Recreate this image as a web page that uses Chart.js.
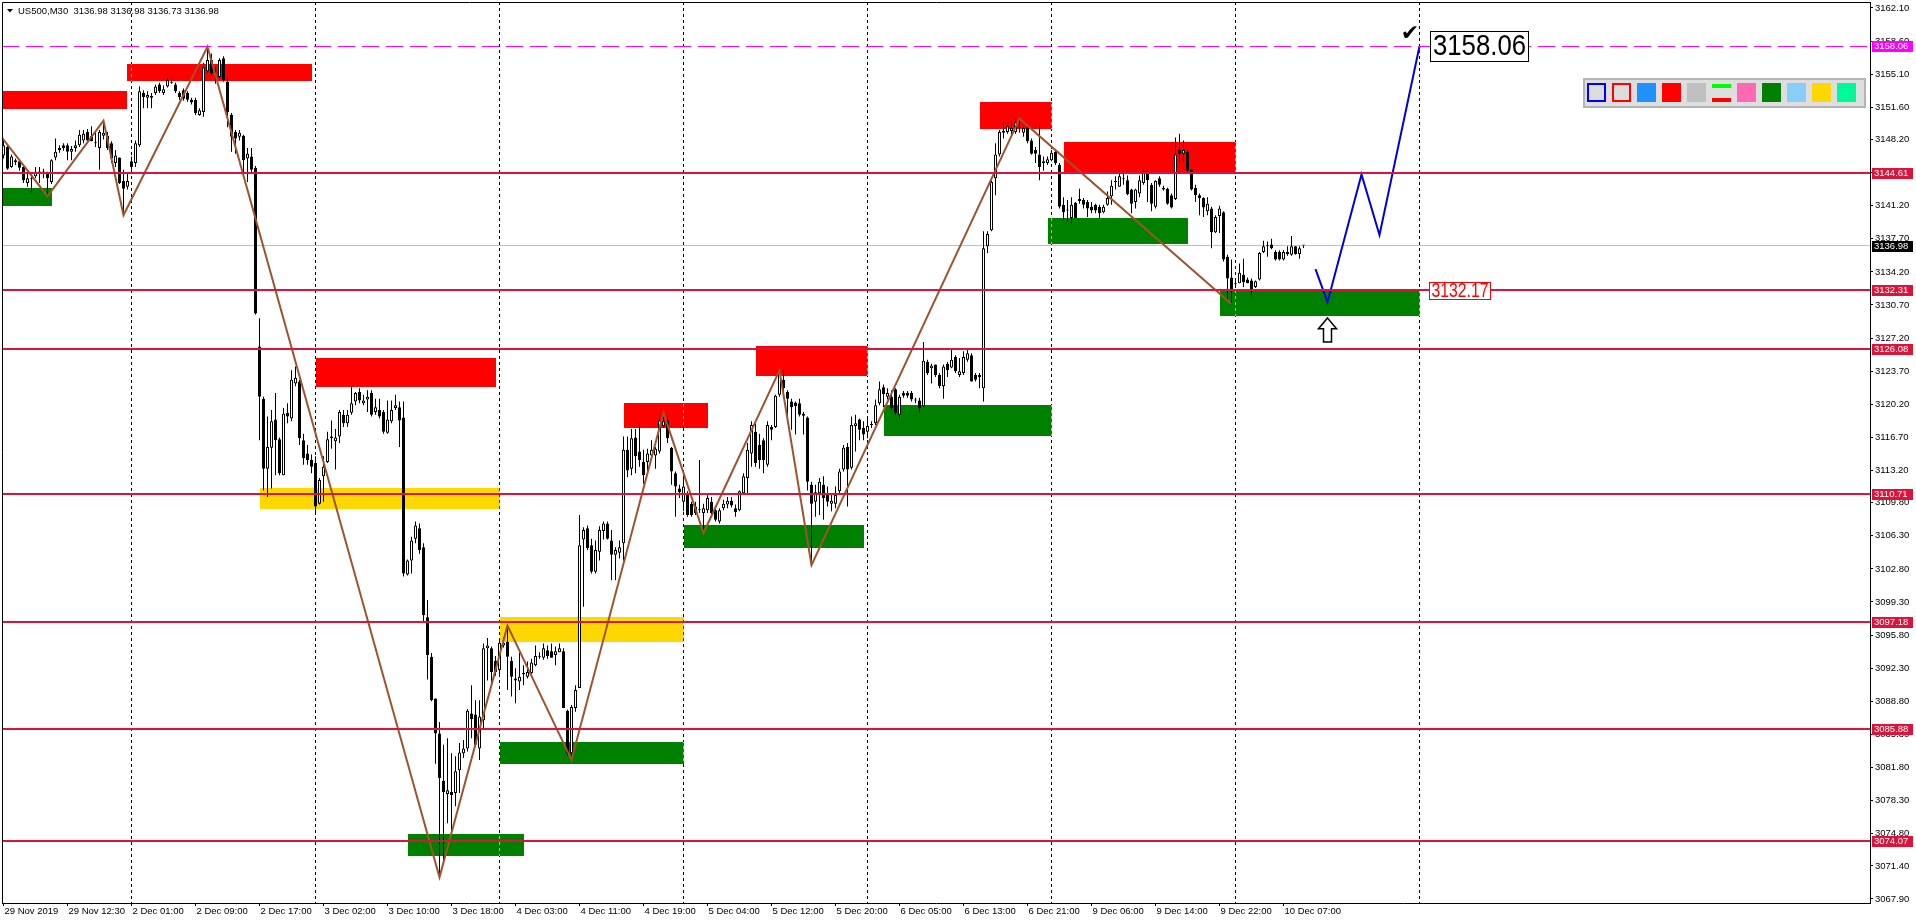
<!DOCTYPE html>
<html>
<head>
<meta charset="utf-8">
<script src="https://cdn.jsdelivr.net/npm/chart.js@4.4.1/dist/chart.umd.min.js"></script>
<style>
  html, body { margin: 0; padding: 0; background: #fff; }
  #wrap { width: 1916px; height: 923px; }
</style>
</head>
<body>
<div id="wrap"><canvas id="chart" width="1916" height="923"></canvas></div>
<script>
const FONT = '"Liberation Sans", Arial, sans-serif';

// US500 M30 candles, [open, high, low, close], one array per session
const nov29 = [
  [3146.5,3148.3,3146.2,3147.6],[3147.4,3147.6,3145.0,3145.1],[3145.3,3146.6,3145.2,3146.4],[3146.0,3146.2,3145.5,3145.8],
  [3145.9,3146.1,3144.9,3145.2],[3145.3,3145.5,3143.6,3143.9],[3143.6,3144.6,3143.2,3144.1],[3144.1,3144.6,3142.6,3144.0],
  [3144.3,3145.3,3144.1,3144.8],[3144.7,3145.3,3143.6,3144.7],[3144.7,3145.1,3144.1,3144.8],[3144.6,3144.8,3142.2,3144.1],
  [3143.7,3146.1,3143.5,3146.0],[3146.3,3148.3,3146.0,3146.9],[3147.1,3147.6,3146.8,3147.3],[3147.6,3147.8,3147.0,3147.3],
  [3147.6,3147.8,3146.0,3146.9],[3146.9,3147.5,3146.0,3147.2],[3147.3,3148.1,3146.9,3147.6],[3147.6,3149.2,3147.4,3148.7],
  [3148.1,3149.2,3147.8,3148.8],[3149.0,3149.3,3147.9,3148.1],[3148.6,3149.6,3148.0,3148.0],[3147.8,3149.0,3147.4,3147.8],
  [3147.3,3149.2,3145.0,3149.0],[3148.6,3150.2,3148.2,3148.9],[3148.6,3149.0,3147.1,3147.3],[3147.8,3148.0,3145.7,3146.2],
  [3145.7,3147.1,3145.3,3146.5],[3146.3,3146.3,3143.5,3143.6],[3143.8,3145.0,3140.2,3143.0],[3143.2,3144.6,3142.9,3143.8]
];
const dec02 = [
  [3145.9,3146.4,3145.0,3145.3],[3145.7,3148.1,3145.3,3147.8],[3147.6,3153.8,3147.4,3153.3],[3153.1,3153.4,3151.5,3152.7],
  [3152.6,3153.3,3151.5,3152.9],[3152.6,3153.1,3151.5,3152.8],[3153.1,3154.0,3152.9,3153.8],[3154.0,3154.2,3153.1,3153.3],
  [3153.1,3153.9,3152.9,3153.5],[3153.8,3154.7,3153.7,3154.5],[3154.2,3154.6,3154.1,3154.2],[3154.0,3154.2,3153.1,3153.3],
  [3153.1,3153.3,3152.4,3152.7],[3153.4,3153.6,3152.3,3152.5],[3153.1,3153.3,3152.2,3152.4],[3152.4,3152.6,3151.9,3152.1],
  [3152.4,3152.6,3150.8,3151.0],[3150.8,3151.5,3150.7,3151.3],[3151.1,3156.3,3150.6,3155.8],[3155.4,3158.0,3155.2,3156.6],
  [3156.6,3157.3,3155.0,3155.2],[3155.6,3155.9,3154.1,3155.5],[3154.8,3156.8,3154.7,3156.6],[3156.8,3157.0,3154.3,3154.5],
  [3154.3,3154.8,3149.5,3151.1],[3150.8,3151.0,3146.9,3148.5],[3149.0,3149.2,3146.7,3148.3],[3148.5,3149.2,3148.1,3148.9],
  [3148.6,3148.7,3144.3,3146.0],[3146.2,3147.3,3143.7,3146.7],[3146.4,3147.3,3144.6,3145.0],[3145.2,3145.4,3129.7,3129.8],
  [3126.3,3129.3,3116.4,3121.0],[3120.8,3121.0,3111.1,3113.4],[3113.4,3118.9,3110.4,3115.7],[3115.6,3119.6,3111.3,3118.4],
  [3118.6,3121.4,3112.7,3116.4],[3116.5,3116.7,3112.7,3112.9],[3112.7,3119.8,3112.7,3119.2],[3119.3,3120.3,3118.2,3118.9],
  [3118.7,3123.8,3118.4,3122.8],[3122.4,3124.2,3122.1,3123.0],[3122.6,3122.8,3115.9,3116.6],[3116.4,3117.1,3113.8,3114.5],
  [3115.0,3115.9,3113.8,3114.3],[3114.3,3114.9,3112.9,3113.6]
];
const dec03 = [
  [3114.0,3114.7,3108.5,3109.4],[3109.7,3112.4,3109.6,3112.2],[3112.6,3114.7,3109.9,3113.6],[3114.1,3117.3,3114.0,3116.5],
  [3116.8,3118.5,3115.5,3116.6],[3116.3,3117.6,3113.3,3116.7],[3116.8,3119.6,3116.1,3119.4],[3119.1,3119.6,3117.8,3118.2],
  [3118.2,3119.6,3117.8,3119.1],[3119.3,3122.1,3119.1,3120.3],[3120.5,3121.5,3120.1,3121.4],[3121.5,3121.9,3120.3,3120.6],
  [3120.3,3121.2,3120.1,3120.6],[3120.7,3121.7,3119.4,3121.0],[3121.4,3121.7,3118.9,3119.1],[3119.4,3120.8,3119.1,3119.9],
  [3119.6,3120.8,3118.7,3118.9],[3119.4,3119.6,3117.1,3117.3],[3117.2,3120.6,3117.1,3118.6],[3118.4,3120.6,3118.2,3119.6],
  [3119.8,3121.2,3119.6,3120.1],[3119.9,3120.5,3115.7,3118.5],[3118.8,3120.5,3102.0,3102.3],[3102.2,3103.8,3102.1,3103.7],
  [3103.7,3106.2,3102.3,3105.8],[3106.0,3107.8,3105.5,3107.4],[3107.1,3107.6,3104.4,3104.8],[3105.1,3105.5,3097.2,3097.9],
  [3097.7,3099.5,3091.1,3093.7],[3093.5,3093.9,3088.8,3088.9],[3089.1,3089.1,3082.2,3085.4],[3085.4,3086.6,3070.2,3080.7],
  [3080.4,3084.2,3072.0,3079.2],[3079.0,3084.9,3075.9,3079.4],[3079.2,3083.3,3074.8,3078.9],[3079.1,3083.0,3077.7,3081.4],
  [3081.5,3084.4,3079.1,3083.4],[3083.3,3084.7,3082.8,3083.8],[3083.8,3088.0,3083.5,3087.8],[3087.5,3090.5,3084.9,3086.9],
  [3087.4,3088.9,3084.0,3084.2],[3083.8,3088.9,3082.6,3087.2],[3086.8,3094.9,3085.8,3094.4],[3094.4,3095.5,3091.0,3094.7],
  [3094.4,3094.6,3090.7,3091.9],[3093.1,3093.6,3091.5,3091.9]
];
const dec04 = [
  [3092.1,3095.3,3091.4,3095.0],[3094.7,3095.6,3094.5,3095.0],[3095.1,3096.8,3090.0,3093.5],[3093.1,3093.5,3089.3,3091.4],
  [3091.2,3092.3,3088.6,3091.0],[3090.9,3094.0,3090.0,3091.4],[3091.7,3092.6,3090.5,3091.7],[3091.4,3093.0,3091.2,3091.9],
  [3091.8,3093.3,3091.7,3092.9],[3092.6,3094.7,3092.5,3093.6],[3093.5,3094.0,3093.3,3093.5],[3093.4,3094.9,3093.2,3094.4],
  [3094.2,3094.7,3093.3,3093.6],[3094.1,3094.9,3093.4,3093.4],[3093.7,3094.6,3092.6,3094.1],[3094.0,3094.9,3094.0,3094.4],
  [3094.1,3094.4,3088.1,3088.1],[3087.8,3087.9,3083.1,3083.3],[3083.3,3088.4,3082.6,3088.2],[3088.1,3090.5,3087.7,3090.0],
  [3090.2,3108.5,3090.2,3105.3],[3105.9,3107.2,3098.8,3106.9],[3107.1,3107.4,3104.8,3105.0],[3105.3,3106.0,3102.3,3102.5],
  [3102.5,3105.8,3102.3,3104.8],[3104.6,3107.3,3103.7,3106.9],[3106.8,3107.8,3105.9,3107.6],[3107.6,3107.8,3105.9,3106.0],
  [3105.8,3106.9,3101.6,3104.3],[3104.3,3105.1,3101.6,3104.8],[3104.5,3105.8,3103.9,3105.1],[3105.5,3116.8,3103.7,3115.4],
  [3115.4,3116.8,3112.5,3113.2],[3113.4,3117.6,3112.7,3116.6],[3116.7,3117.6,3112.9,3114.7],[3115.2,3118.2,3113.6,3114.3],
  [3114.1,3115.4,3111.8,3112.7],[3114.1,3115.5,3112.9,3115.0],[3114.8,3116.4,3114.7,3115.4],[3114.8,3115.7,3113.4,3115.5],
  [3115.2,3118.9,3115.0,3118.5],[3117.9,3119.3,3117.7,3118.4],[3118.5,3118.7,3116.1,3116.6],[3115.6,3115.7,3111.7,3113.1],
  [3112.9,3113.1,3108.3,3111.5],[3111.3,3111.7,3110.3,3110.9]
];
const dec05 = [
  [3109.9,3112.7,3108.9,3111.5],[3110.6,3111.0,3108.3,3108.5],[3109.7,3109.9,3108.3,3108.5],[3109.4,3109.9,3108.5,3108.7],
  [3109.0,3114.3,3108.7,3109.0],[3108.7,3109.7,3106.6,3109.2],[3109.0,3110.6,3108.7,3110.3],[3109.9,3110.4,3108.5,3108.7],
  [3109.0,3109.2,3107.8,3108.0],[3107.8,3109.2,3107.6,3109.0],[3109.2,3110.1,3109.0,3109.7],[3109.6,3110.4,3109.2,3110.0],
  [3110.0,3110.4,3109.3,3109.5],[3109.2,3109.6,3108.3,3108.8],[3109.0,3111.1,3108.9,3111.0],[3110.8,3112.9,3110.6,3112.6],
  [3112.4,3116.1,3110.6,3115.4],[3115.0,3118.4,3113.6,3118.0],[3117.3,3118.2,3113.6,3114.0],[3115.9,3117.1,3113.4,3114.3],
  [3116.4,3116.6,3112.9,3114.3],[3113.8,3118.4,3113.6,3118.0],[3117.8,3118.0,3116.4,3117.5],[3117.8,3121.2,3117.7,3121.1],
  [3121.2,3123.8,3121.0,3123.5],[3122.8,3123.8,3121.0,3121.9],[3121.5,3121.7,3118.6,3120.8],[3120.5,3120.8,3117.5,3119.9],
  [3120.4,3120.5,3117.0,3120.0],[3120.3,3120.8,3118.9,3119.1],[3119.0,3119.4,3117.0,3119.2],[3118.8,3118.9,3111.1,3112.0],
  [3111.7,3112.0,3103.2,3109.7],[3109.9,3111.7,3108.3,3110.9],[3110.8,3112.4,3108.5,3112.0],[3111.7,3112.6,3108.0,3110.3],
  [3110.8,3111.5,3109.4,3109.9],[3109.7,3110.6,3108.9,3110.0],[3109.7,3111.5,3109.2,3110.6],[3111.0,3113.4,3110.8,3113.1],
  [3113.3,3115.9,3113.1,3115.6],[3115.7,3116.1,3109.4,3113.3],[3113.5,3118.9,3113.3,3118.0],[3117.9,3119.1,3115.2,3118.2],
  [3118.6,3118.7,3116.4,3117.5],[3117.7,3118.4,3116.4,3117.0]
];
const dec06 = [
  [3117.3,3118.7,3116.6,3117.9],[3118.0,3118.4,3117.7,3118.1],[3118.2,3120.7,3118.0,3120.1],[3120.3,3122.6,3120.1,3121.8],
  [3122.0,3122.3,3119.9,3121.3],[3121.0,3121.9,3120.7,3121.4],[3121.0,3121.7,3119.6,3119.8],[3121.8,3121.9,3119.1,3119.3],
  [3119.1,3121.2,3118.7,3121.0],[3121.4,3121.6,3120.9,3121.1],[3121.4,3121.6,3120.9,3121.1],[3121.4,3121.6,3120.5,3120.7],
  [3120.6,3120.9,3120.3,3120.6],[3120.6,3120.9,3119.3,3119.8],[3120.0,3126.8,3119.9,3124.8],[3124.7,3124.9,3123.3,3123.5],
  [3124.0,3124.5,3122.4,3124.3],[3124.4,3124.4,3123.1,3123.3],[3123.3,3123.5,3121.9,3122.1],[3122.1,3124.4,3120.8,3124.2],
  [3124.5,3124.7,3123.1,3123.8],[3124.1,3126.0,3124.0,3124.9],[3125.2,3125.4,3123.5,3123.7],[3123.3,3125.1,3123.1,3123.7],
  [3123.5,3125.8,3123.3,3125.2],[3124.9,3126.0,3124.7,3125.6],[3125.4,3125.6,3122.6,3122.6],[3123.3,3123.5,3122.6,3122.8],
  [3123.1,3123.5,3121.9,3123.3],[3121.9,3138.5,3120.5,3136.7],[3136.9,3138.5,3136.2,3138.2],[3138.6,3143.9,3138.5,3143.7],
  [3144.1,3147.8,3142.3,3146.6],[3146.6,3149.2,3146.4,3149.0],[3148.9,3150.3,3148.3,3149.1],[3149.0,3149.9,3148.8,3149.6],
  [3149.1,3150.2,3148.7,3149.4],[3149.0,3150.4,3148.8,3150.0],[3149.4,3150.4,3148.9,3149.4],[3148.9,3149.6,3148.5,3149.4],
  [3149.4,3149.6,3147.8,3148.0],[3148.1,3148.3,3146.6,3146.7],[3147.1,3147.4,3145.7,3146.7],[3146.6,3149.8,3143.9,3145.3],
  [3145.7,3146.4,3144.9,3145.9],[3145.7,3146.4,3145.5,3146.1]
];
const dec09 = [
  [3146.0,3147.1,3145.9,3146.8],[3146.9,3147.1,3145.5,3145.7],[3145.5,3145.7,3140.9,3141.1],[3141.3,3142.1,3139.7,3140.5],
  [3140.8,3141.8,3139.5,3140.7],[3139.9,3142.1,3139.3,3141.3],[3141.5,3141.6,3139.9,3139.9],[3141.7,3143.0,3141.4,3141.9],
  [3141.8,3142.0,3140.9,3141.3],[3141.6,3141.8,3140.0,3140.9],[3141.1,3141.6,3140.4,3140.7],[3141.3,3141.4,3140.4,3140.7],
  [3141.1,3141.3,3139.9,3140.4],[3140.5,3141.3,3140.4,3141.1],[3141.3,3142.7,3141.2,3142.0],[3142.2,3143.9,3141.3,3143.3],
  [3143.7,3144.3,3142.9,3143.8],[3143.2,3144.9,3143.2,3144.3],[3144.0,3144.9,3143.4,3144.0],[3143.9,3144.4,3142.3,3142.4],
  [3142.9,3143.0,3140.4,3141.4],[3141.6,3143.0,3140.9,3142.9],[3142.5,3144.4,3142.1,3143.9],[3143.6,3145.1,3143.4,3144.9],
  [3144.9,3145.0,3141.6,3143.9],[3143.4,3143.6,3140.6,3141.4],[3141.1,3143.9,3140.9,3143.8],[3144.1,3144.3,3143.2,3143.4],
  [3143.1,3143.3,3142.8,3142.9],[3143.0,3143.1,3141.3,3141.4],[3142.3,3142.5,3140.9,3141.0],[3141.9,3148.4,3141.8,3146.6],
  [3147.1,3148.8,3145.8,3146.7],[3146.7,3148.1,3145.7,3147.1],[3146.9,3147.1,3144.8,3144.9],[3145.0,3145.1,3142.8,3142.9],
  [3143.1,3143.4,3141.6,3142.3],[3142.3,3142.5,3140.2,3142.0],[3142.0,3142.1,3140.0,3141.0],[3140.6,3142.1,3140.2,3141.4],
  [3140.9,3141.1,3136.7,3138.4],[3138.4,3140.2,3138.3,3140.0],[3140.1,3141.2,3138.3,3140.9],[3140.5,3140.6,3135.3,3135.5],
  [3135.8,3136.0,3131.2,3133.5],[3133.6,3135.5,3130.8,3132.3]
];
const dec10 = [
  [3132.9,3133.3,3132.5,3132.9],[3133.0,3135.1,3133.0,3134.1],[3133.9,3135.6,3132.6,3133.1],[3133.4,3133.6,3133.0,3133.0],
  [3133.3,3133.5,3131.6,3132.4],[3132.6,3133.3,3132.5,3133.2],[3133.4,3136.3,3133.3,3136.2],[3136.3,3137.5,3136.2,3136.9],
  [3136.9,3137.4,3135.8,3136.9],[3137.1,3137.7,3136.6,3136.7],[3136.3,3136.5,3135.4,3135.5],[3136.3,3136.5,3135.4,3135.5],
  [3135.5,3136.5,3135.4,3136.3],[3136.3,3136.9,3135.9,3136.1],[3136.0,3138.0,3135.9,3136.9],[3136.9,3136.9,3136.0,3136.1],
  [3136.1,3136.9,3135.6,3136.7],[3136.98,3136.98,3136.73,3136.98]
];
const candles = [nov29, dec02, dec03, dec04, dec05, dec06, dec09, dec10].flat();

// time axis: bar index of each label
const xTickIdx = [0, 16, 32, 48, 64, 80, 96, 112, 128, 144, 160, 176, 192, 208, 224, 240, 256, 272, 288, 304, 320];
const xTickText = ['29 Nov 2019', '29 Nov 12:30', '2 Dec 01:00', '2 Dec 09:00', '2 Dec 17:00', '3 Dec 02:00',
  '3 Dec 10:00', '3 Dec 18:00', '4 Dec 03:00', '4 Dec 11:00', '4 Dec 19:00', '5 Dec 04:00', '5 Dec 12:00',
  '5 Dec 20:00', '6 Dec 05:00', '6 Dec 13:00', '6 Dec 21:00', '9 Dec 06:00', '9 Dec 14:00', '9 Dec 22:00', '10 Dec 07:00'];
const yTickVals = [3162.10, 3158.60, 3155.10, 3151.60, 3148.20, 3144.70, 3141.20, 3137.70, 3134.20, 3130.70,
  3127.20, 3123.70, 3120.20, 3116.70, 3113.20, 3109.80, 3106.30, 3102.80, 3099.30, 3095.80, 3092.30, 3088.80,
  3085.30, 3081.80, 3078.30, 3074.80, 3071.40, 3067.90];
const daySeparators = [32, 78, 124, 170, 216, 262, 308, 354];

// drawn objects
const levels = [3144.61, 3132.31, 3126.08, 3110.71, 3097.18, 3085.88, 3074.07];
const targetLevel = 3158.06;
const bidPrice = 3136.98;
const zigzag = [[-0.4, 3148.4], [11, 3142.2], [25, 3150.2], [30, 3140.2], [51, 3158.0], [109, 3070.2], [126, 3096.8],
  [142, 3082.6], [165, 3119.3], [175, 3106.6], [194, 3123.8], [202, 3103.2], [254, 3150.4], [307, 3130.8]];
const projection = [[328, 3134.5], [331, 3131.0], [339.5, 3144.5], [344, 3138.1], [354, 3158.06]];
// [from bar, to bar, top price, bottom price]
const redZones = [[-1, 31, 3153.33, 3151.45], [31, 77, 3156.18, 3154.42], [78, 123, 3125.13, 3122.07],
  [155, 176, 3120.35, 3117.70], [188, 216, 3126.37, 3123.17], [244, 262, 3152.16, 3149.34], [265, 308, 3147.93, 3144.80]];
const greenZones = [[-1, 12, 3143.07, 3141.20], [101, 130, 3074.82, 3072.46], [124, 170, 3084.54, 3082.15],
  [170, 215, 3107.45, 3105.05], [220, 262, 3120.13, 3116.89], [261, 296, 3139.90, 3137.19], [304, 354, 3132.29, 3129.57]];
const goldZones = [[64, 124, 3111.36, 3109.12], [124, 170, 3097.72, 3095.05]];
const toolColors = ['#dcdcdc', '#dcdcdc', '#1e90ff', '#ff0000', '#c0c0c0', null, '#ff69b4', '#008000', '#87cefa', '#ffd700', '#00fa9a'];

function fitText(ctx, str, cx, cy, size, width, color) {
  ctx.save();
  ctx.font = size + 'px ' + FONT;
  const w = ctx.measureText(str).width;
  ctx.translate(cx, cy);
  ctx.scale(width / w, 1);
  ctx.textAlign = 'center';
  ctx.textBaseline = 'middle';
  ctx.fillStyle = color;
  ctx.fillText(str, 0, 0);
  ctx.restore();
}

function hLine(ctx, a, yy, color, width, dash) {
  ctx.save();
  ctx.strokeStyle = color;
  ctx.lineWidth = width;
  ctx.setLineDash(dash || []);
  ctx.beginPath();
  ctx.moveTo(a.left, yy);
  ctx.lineTo(a.right, yy);
  ctx.stroke();
  ctx.restore();
}

const mt4Objects = {
  id: 'mt4Objects',
  beforeDraw(chart) {
    const ctx = chart.ctx;
    ctx.save();
    ctx.fillStyle = '#fff';
    ctx.fillRect(0, 0, chart.width, chart.height);
    ctx.restore();
  },
  beforeDatasetsDraw(chart) {
    const { ctx, chartArea: a, scales: { x, y } } = chart;
    ctx.save();
    ctx.beginPath();
    ctx.rect(a.left, a.top, a.right - a.left, a.bottom - a.top);
    ctx.clip();
    hLine(ctx, a, Math.floor(y.getPixelForValue(bidPrice)) + 0.5, '#c0c0c0', 1);
    const fillZones = (list, color) => {
      ctx.fillStyle = color;
      list.forEach(([b0, b1, top, bot]) => {
        const x0 = Math.round(x.getPixelForValue(b0)), x1 = Math.round(x.getPixelForValue(b1));
        const y0 = Math.round(y.getPixelForValue(top)), y1 = Math.round(y.getPixelForValue(bot));
        ctx.fillRect(x0, y0, x1 - x0, y1 - y0);
      });
    };
    fillZones(goldZones, '#ffd700');
    fillZones(greenZones, '#008000');
    fillZones(redZones, '#ff0000');
    // period separators use an xor-like pen
    ctx.globalCompositeOperation = 'difference';
    ctx.strokeStyle = '#fff';
    ctx.lineWidth = 1;
    ctx.setLineDash([3, 3]);
    daySeparators.forEach(b => {
      const xs = Math.floor(x.getPixelForValue(b)) + 0.5;
      ctx.beginPath();
      ctx.moveTo(xs, a.top);
      ctx.lineTo(xs, a.bottom);
      ctx.stroke();
    });
    ctx.restore();
  },
  afterDatasetsDraw(chart) {
    const { ctx, chartArea: a, scales: { x, y } } = chart;
    ctx.save();
    ctx.beginPath();
    ctx.rect(a.left, a.top, a.right - a.left, a.bottom - a.top);
    ctx.clip();
    levels.forEach(v => hLine(ctx, a, Math.round(y.getPixelForValue(v)), '#dc143c', 2));
    hLine(ctx, a, Math.floor(y.getPixelForValue(targetLevel)) + 0.5, '#ff00ff', 1, [17, 7]);

    // target label
    let bx = Math.round(x.getPixelForValue(356.6)), by = y.getPixelForValue(targetLevel);
    ctx.fillStyle = '#fff';
    ctx.fillRect(bx, Math.round(by - 15.5), 99, 31);
    ctx.strokeStyle = '#000';
    ctx.lineWidth = 1;
    ctx.strokeRect(bx + 0.5, Math.round(by - 15.5) + 0.5, 98, 30);
    fitText(ctx, '3158.06', bx + 49.5, by + 0.5, 30, 93, '#000');

    // tick mark above the target
    ctx.fillStyle = '#000';
    ctx.font = 'bold 22px "DejaVu Sans", sans-serif';
    ctx.textAlign = 'center';
    ctx.textBaseline = 'middle';
    ctx.fillText('\u2714', x.getPixelForValue(351.6), y.getPixelForValue(3159.35));

    // support label
    bx = Math.round(x.getPixelForValue(356.4));
    by = y.getPixelForValue(3132.17);
    ctx.fillStyle = '#fff';
    ctx.fillRect(bx, Math.round(by - 9), 62, 18);
    ctx.strokeStyle = '#ff0000';
    ctx.strokeRect(bx + 0.5, Math.round(by - 9) + 0.5, 61, 17);
    fitText(ctx, '3132.17', bx + 31, by + 0.5, 19.5, 57, '#ff0000');

    // up arrow under the projected low
    const ax = x.getPixelForValue(331), at = y.getPixelForValue(3129.33), ab = y.getPixelForValue(3126.79);
    const hh = (ab - at) * 0.45;
    ctx.beginPath();
    ctx.moveTo(ax, at);
    ctx.lineTo(ax + 9, at + hh);
    ctx.lineTo(ax + 4, at + hh);
    ctx.lineTo(ax + 4, ab);
    ctx.lineTo(ax - 4, ab);
    ctx.lineTo(ax - 4, at + hh);
    ctx.lineTo(ax - 9, at + hh);
    ctx.closePath();
    ctx.fillStyle = '#fff';
    ctx.fill();
    ctx.strokeStyle = '#000';
    ctx.lineWidth = 1.5;
    ctx.stroke();
    ctx.restore();
  },
  afterDraw(chart) {
    const { ctx, chartArea: a, scales: { y } } = chart;
    ctx.save();
    // chart frame (left/top)
    ctx.strokeStyle = '#000';
    ctx.lineWidth = 1;
    ctx.beginPath();
    ctx.moveTo(a.left + 0.5, a.bottom);
    ctx.lineTo(a.left + 0.5, a.top + 0.5);
    ctx.lineTo(a.right, a.top + 0.5);
    ctx.stroke();

    // price tags on the axis
    ctx.font = '9.5px ' + FONT;
    ctx.textBaseline = 'middle';
    ctx.textAlign = 'left';
    const tag = (v, bg) => {
      const yy = Math.round(y.getPixelForValue(v));
      ctx.fillStyle = bg;
      ctx.fillRect(a.right + 2, yy - 5, 41, 11);
      ctx.fillStyle = '#fff';
      ctx.fillText(v.toFixed(2), a.right + 4, yy + 0.5);
    };
    levels.forEach(v => tag(v, '#dc143c'));
    tag(targetLevel, '#ff00ff');
    tag(bidPrice, '#000');

    // header
    ctx.fillStyle = '#000';
    ctx.beginPath();
    ctx.moveTo(7, 9);
    ctx.lineTo(13, 9);
    ctx.lineTo(10, 12.5);
    ctx.closePath();
    ctx.fill();
    ctx.textBaseline = 'alphabetic';
    ctx.fillText('US500,M30  3136.98 3136.98 3136.73 3136.98', 18, 13.5);

    // drawing toolbar
    ctx.fillStyle = '#dedede';
    ctx.fillRect(1583, 78, 283, 30);
    ctx.strokeStyle = '#b4b4b4';
    ctx.lineWidth = 2;
    ctx.strokeRect(1584, 79, 281, 28);
    toolColors.forEach((c, k) => {
      const sx = 1587 + 25 * k, sy = 83;
      if (c === null) {
        ctx.fillStyle = '#00ff00';
        ctx.fillRect(sx, sy + 1, 19, 4);
        ctx.fillStyle = '#ff0000';
        ctx.fillRect(sx, sy + 15, 19, 4);
        return;
      }
      ctx.fillStyle = c;
      ctx.fillRect(sx, sy, 19, 19);
      if (k < 2) {
        ctx.strokeStyle = k === 0 ? '#0000ff' : '#ff0000';
        ctx.lineWidth = 2;
        ctx.strokeRect(sx + 1, sy + 1, 17, 17);
      }
    });
    ctx.restore();
  }
};

const ctx = document.getElementById('chart').getContext('2d');
new Chart(ctx, {
  type: 'bar',
  data: {
    datasets: [
      {
        type: 'line',
        data: zigzag.map(p => ({ x: p[0], y: p[1] })),
        borderColor: '#a0522d',
        borderWidth: 2,
        pointRadius: 0,
        tension: 0,
        order: 0
      },
      {
        type: 'line',
        data: projection.map(p => ({ x: p[0], y: p[1] })),
        borderColor: '#0000dd',
        borderWidth: 2,
        pointRadius: 0,
        tension: 0,
        order: 0
      },
      {
        // bodies
        data: candles.map((c, i) => ({ x: i, y: [Math.min(c[0], c[3]), Math.max(c[0], c[3])] })),
        backgroundColor: c => {
          const k = candles[c.dataIndex];
          return k && k[3] > k[0] ? '#fff' : '#000';
        },
        borderColor: '#000',
        borderWidth: 1,
        borderSkipped: false,
        barThickness: 3,
        minBarLength: 1,
        inflateAmount: 0,
        grouped: false,
        order: 1
      },
      {
        // wicks
        data: candles.map((c, i) => ({ x: i, y: [c[2], c[1]] })),
        backgroundColor: '#000',
        borderWidth: 0,
        barThickness: 1,
        minBarLength: 1,
        inflateAmount: 0,
        grouped: false,
        order: 2
      }
    ]
  },
  options: {
    responsive: false,
    animation: false,
    events: [],
    devicePixelRatio: 1,
    layout: { padding: { left: 2, top: 2, right: 0, bottom: 0 } },
    plugins: { legend: { display: false }, tooltip: { enabled: false } },
    scales: {
      x: {
        type: 'linear',
        position: 'bottom',
        min: -0.375,
        max: 466.625,
        bounds: 'data',
        offset: false,
        afterBuildTicks: s => { s.ticks = xTickIdx.map(v => ({ value: v })); },
        afterFit: s => { s.height = 20; s.paddingLeft = 0; s.paddingRight = 0; },
        ticks: {
          autoSkip: false,
          maxRotation: 0,
          minRotation: 0,
          align: 'start',
          labelOffset: 1,
          padding: 0,
          color: '#000',
          font: { family: FONT, size: 9.5 },
          callback: v => xTickText[xTickIdx.indexOf(v)]
        },
        grid: { display: true, drawOnChartArea: false, drawTicks: true, tickLength: 3, color: '#000', offset: false },
        border: { display: true, color: '#000', width: 1 }
      },
      y: {
        type: 'linear',
        position: 'right',
        min: 3067.477,
        max: 3162.734,
        bounds: 'data',
        afterBuildTicks: s => { s.ticks = yTickVals.map(v => ({ value: v })); },
        afterFit: s => { s.width = 46; s.paddingTop = 0; s.paddingBottom = 0; },
        ticks: {
          color: '#000',
          padding: 2,
          font: { family: FONT, size: 9.5 },
          callback: v => v.toFixed(2)
        },
        grid: { display: true, drawOnChartArea: false, drawTicks: true, tickLength: 3, color: '#000' },
        border: { display: true, color: '#000', width: 1 }
      }
    }
  },
  plugins: [mt4Objects]
});
</script>
</body>
</html>
